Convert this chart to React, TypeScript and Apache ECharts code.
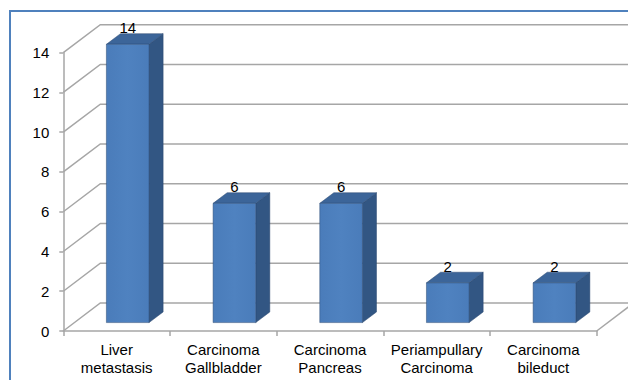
import React, { useEffect, useRef } from "react";
import * as echarts from "echarts";

// Case counts per diagnosis
const categories = [
  "Liver\nmetastasis",
  "Carcinoma\nGallbladder",
  "Carcinoma\nPancreas",
  "Periampullary\nCarcinoma",
  "Carcinoma\nbileduct",
];
const values = [14, 6, 6, 2, 2];
const yTicks = [0, 2, 4, 6, 8, 10, 12, 14];

// Oblique depth vector of the pseudo-3D box (pixels)
const DEPTH_X = 37;
const DEPTH_Y = -28;
// Bars sit between these fractions of the depth
const BAR_FRONT = 0.3;
const BAR_BACK = 0.68;
const BAR_WIDTH = 0.4;

const FONT = '"Liberation Sans", Arial, sans-serif';
const GRID_COLOR = "#a6a6a6";

export default function App() {
  const ref = useRef<HTMLDivElement>(null);

  useEffect(() => {
    if (!ref.current) return;
    const chart = echarts.init(ref.current, undefined, { renderer: "svg" });

    const wallItem = (params: any, api: any) => {
      const v = api.value(1);
      const cs = params.coordSys;
      const y = api.coord([0, v])[1];
      const left = cs.x;
      const right = cs.x + cs.width;
      const style = { stroke: GRID_COLOR, lineWidth: 1.5, fill: null };
      const children: any[] = [
        {
          type: "polyline",
          shape: {
            points: [
              [left, y],
              [left + DEPTH_X, y + DEPTH_Y],
              [right + DEPTH_X, y + DEPTH_Y],
            ],
          },
          style,
        },
      ];
      if (v === 0) {
        children.push({
          type: "line",
          shape: { x1: right, y1: y, x2: right + DEPTH_X, y2: y + DEPTH_Y },
          style,
        });
      }
      return { type: "group", children };
    };

    const barItem = (_params: any, api: any) => {
      const i = api.value(0);
      const v = api.value(1);
      const top = api.coord([i, v]);
      const base = api.coord([i, 0]);
      const band = api.size([1, 0])[0];
      const w = band * BAR_WIDTH;
      const x0 = top[0] - w / 2 + BAR_FRONT * DEPTH_X;
      const x1 = x0 + w;
      const yT = top[1] + BAR_FRONT * DEPTH_Y;
      const yB = base[1] + BAR_FRONT * DEPTH_Y;
      const ddx = (BAR_BACK - BAR_FRONT) * DEPTH_X;
      const ddy = (BAR_BACK - BAR_FRONT) * DEPTH_Y;
      const edge = "rgba(40,70,110,0.6)";
      return {
        type: "group",
        children: [
          {
            type: "polygon",
            shape: {
              points: [
                [x1, yT],
                [x1 + ddx, yT + ddy],
                [x1 + ddx, yB + ddy],
                [x1, yB],
              ],
            },
            style: { fill: "#325683", stroke: edge, lineWidth: 0.8 },
          },
          {
            type: "polygon",
            shape: {
              points: [
                [x0, yT],
                [x1, yT],
                [x1 + ddx, yT + ddy],
                [x0 + ddx, yT + ddy],
              ],
            },
            style: { fill: "#3c6599", stroke: edge, lineWidth: 0.8 },
          },
          {
            type: "rect",
            shape: { x: x0, y: yT, width: w, height: yB - yT },
            style: {
              fill: new echarts.graphic.LinearGradient(0, 0, 1, 0, [
                { offset: 0, color: "#4a7cba" },
                { offset: 0.5, color: "#4f82c0" },
                { offset: 1, color: "#4a7cba" },
              ]),
              stroke: edge,
              lineWidth: 0.8,
            },
          },
          {
            type: "text",
            style: {
              text: String(v),
              x: (x0 + x1) / 2,
              y: yT + ddy - 6,
              align: "center",
              verticalAlign: "middle",
              fontSize: 15,
              fontFamily: FONT,
              fill: "#000",
            },
          },
        ],
      };
    };

    chart.setOption({
      animation: false,
      backgroundColor: "#ffffff",
      grid: { left: 63.3, right: 31.3, top: 52.7, bottom: 49, containLabel: false },
      graphic: [
        {
          type: "rect",
          shape: { x: 10, y: 11, width: 720, height: 500 },
          style: { fill: "none", stroke: "#4f81bd", lineWidth: 2 },
          z: 100,
        },
      ],
      xAxis: {
        type: "category",
        data: categories,
        axisLine: { show: true, lineStyle: { color: GRID_COLOR, width: 1.5 } },
        axisTick: { show: true, length: 5, lineStyle: { color: GRID_COLOR, width: 1.5 } },
        axisLabel: {
          color: "#000",
          fontSize: 15,
          fontFamily: FONT,
          lineHeight: 18,
          margin: 9,
          interval: 0,
        },
        splitLine: { show: false },
      },
      yAxis: {
        type: "value",
        min: 0,
        max: 14,
        interval: 2,
        axisLine: { show: true, lineStyle: { color: GRID_COLOR, width: 1.5 } },
        axisTick: { show: true, length: 4, lineStyle: { color: GRID_COLOR, width: 1.5 } },
        axisLabel: { color: "#000", fontSize: 15, fontFamily: FONT, margin: 14 },
        splitLine: { show: false },
      },
      series: [
        {
          type: "custom",
          renderItem: wallItem,
          data: yTicks.map((v) => [0, v]),
          clip: false,
          silent: true,
          z: 1,
        },
        {
          type: "custom",
          renderItem: barItem,
          data: values.map((v, i) => [i, v]),
          clip: false,
          z: 3,
        },
      ],
    });

    return () => chart.dispose();
  }, []);

  return (
    <div
      ref={ref}
      style={{ position: "absolute", left: 0, top: 0, width: 628, height: 380 }}
    />
  );
}
